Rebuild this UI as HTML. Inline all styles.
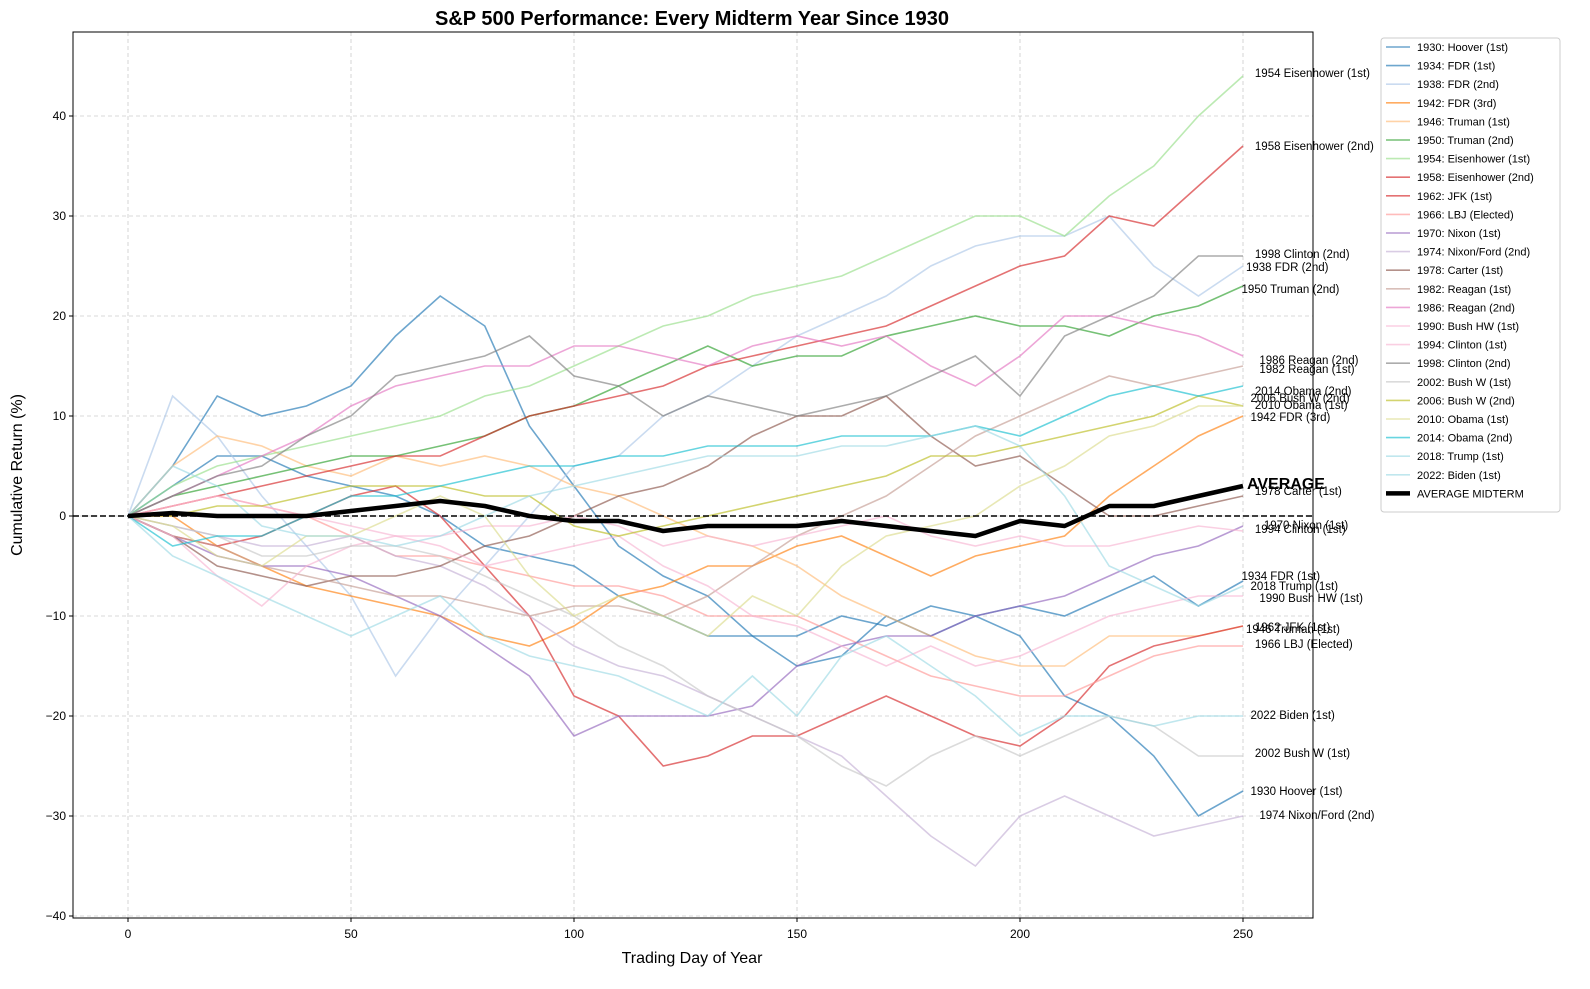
<!DOCTYPE html>
<html><head><meta charset="utf-8"><style>
html,body{margin:0;padding:0;background:#fff;overflow:hidden;width:1590px;height:989px;font-family:"Liberation Sans","DejaVu Sans",sans-serif}
svg{display:block;position:absolute;left:0;top:0}
</style></head><body>
<svg id="chart" width="1590" height="989" font-family="Liberation Sans, DejaVu Sans, sans-serif">
<text x="692" y="25" font-size="20" font-weight="bold" text-anchor="middle">S&amp;P 500 Performance: Every Midterm Year Since 1930</text>
<text x="692" y="963" font-size="16" text-anchor="middle">Trading Day of Year</text>
<text x="22" y="475" font-size="16" text-anchor="middle" transform="rotate(-90 22 475)">Cumulative Return (%)</text>
<g id="grid"></g><g id="series"></g><g id="labels"></g><g id="legend"></g>
</svg>
<script>
const days=[0,10,20,30,40,50,60,70,80,90,100,110,120,130,140,150,160,170,180,190,200,210,220,230,240,250];
const xTicks=[0,50,100,150,200,250];
const yTicks=[-40,-30,-20,-10,0,10,20,30,40];
const names=["1930: Hoover (1st)","1934: FDR (1st)","1938: FDR (2nd)","1942: FDR (3rd)","1946: Truman (1st)","1950: Truman (2nd)","1954: Eisenhower (1st)","1958: Eisenhower (2nd)","1962: JFK (1st)","1966: LBJ (Elected)","1970: Nixon (1st)","1974: Nixon/Ford (2nd)","1978: Carter (1st)","1982: Reagan (1st)","1986: Reagan (2nd)","1990: Bush HW (1st)","1994: Clinton (1st)","1998: Clinton (2nd)","2002: Bush W (1st)","2006: Bush W (2nd)","2010: Obama (1st)","2014: Obama (2nd)","2018: Trump (1st)","2022: Biden (1st)"];
const colors=["#1f77b4","#1f77b4","#aec7e8","#ff7f0e","#ffbb78","#2ca02c","#98df8a","#d62728","#d62728","#ff9896","#9467bd","#c5b0d5","#8c564b","#c49c94","#e377c2","#f7b6d2","#f7b6d2","#7f7f7f","#c7c7c7","#bcbd22","#dbdb8d","#17becf","#9edae5","#9edae5"];
const s1930=[0,5,12,10,11,13,18,22,19,9,3,-3,-6,-8,-12,-12,-10,-11,-9,-10,-12,-18,-20,-24,-30,-27.5];
const s1934=[0,3,6,6,4,3,2,0,-3,-4,-5,-8,-10,-12,-12,-15,-14,-10,-12,-10,-9,-10,-8,-6,-9,-6.5];
const s1938=[0,12,8,2,-3,-8,-16,-10,-5,0,5,6,10,12,15,18,20,22,25,27,28,28,30,25,22,25];
const s1942=[0,0,-3,-5,-7,-8,-9,-10,-12,-13,-11,-8,-7,-5,-5,-3,-2,-4,-6,-4,-3,-2,2,5,8,10];
const s1946=[0,5,8,7,5,4,6,5,6,5,3,2,0,-2,-3,-5,-8,-10,-12,-14,-15,-15,-12,-12,-12,-11];
const s1950=[0,2,3,4,5,6,6,7,8,10,11,13,15,17,15,16,16,18,19,20,19,19,18,20,21,23];
const s1954=[0,3,5,6,7,8,9,10,12,13,15,17,19,20,22,23,24,26,28,30,30,28,32,35,40,44];
const s1958=[0,1,2,3,4,5,6,6,8,10,11,12,13,15,16,17,18,19,21,23,25,26,30,29,33,37];
const s1962=[0,-2,-3,-2,0,2,3,0,-5,-10,-18,-20,-25,-24,-22,-22,-20,-18,-20,-22,-23,-20,-15,-13,-12,-11];
const s1966=[0,1,2,1,0,-2,-4,-4,-5,-6,-7,-7,-8,-10,-10,-10,-12,-14,-16,-17,-18,-18,-16,-14,-13,-13];
const s1970=[0,-2,-4,-5,-5,-6,-8,-10,-13,-16,-22,-20,-20,-20,-19,-15,-13,-12,-12,-10,-9,-8,-6,-4,-3,-1];
const s1974=[0,-1,-2,-3,-3,-2,-4,-5,-7,-10,-13,-15,-16,-18,-20,-22,-24,-28,-32,-35,-30,-28,-30,-32,-31,-30];
const s1978=[0,-2,-5,-6,-7,-6,-6,-5,-3,-2,0,2,3,5,8,10,10,12,8,5,6,3,0,0,1,2];
const s1982=[0,-2,-3,-5,-6,-7,-8,-8,-9,-10,-9,-9,-10,-8,-5,-2,0,2,5,8,10,12,14,13,14,15];
const s1986=[0,2,4,6,8,11,13,14,15,15,17,17,16,15,17,18,17,18,15,13,16,20,20,19,18,16];
const s1990=[0,-2,-6,-9,-5,-3,-2,-3,-5,-4,-3,-2,-5,-7,-10,-11,-13,-15,-13,-15,-14,-12,-10,-9,-8,-8];
const s1994=[0,1,2,1,0,-1,-2,-2,-1,-1,0,-1,-3,-2,-3,-2,-1,0,-2,-3,-2,-3,-3,-2,-1,-1.5];
const s1998=[0,2,4,5,8,10,14,15,16,18,14,13,10,12,11,10,11,12,14,16,12,18,20,22,26,26];
const s2002=[0,-1,-2,-4,-4,-3,-3,-4,-6,-8,-10,-13,-15,-18,-20,-22,-25,-27,-24,-22,-24,-22,-20,-21,-24,-24];
const s2006=[0,0,1,1,2,3,3,3,2,2,-1,-2,-1,0,1,2,3,4,6,6,7,8,9,10,12,11];
const s2010=[0,-1,-4,-5,-2,-2,0,2,0,-6,-10,-8,-10,-12,-8,-10,-5,-2,-1,0,3,5,8,9,11,11];
const s2014=[0,-3,-2,-2,0,2,2,3,4,5,5,6,6,7,7,7,8,8,8,9,8,10,12,13,12,13];
const s2018=[0,5,3,-1,-2,-2,-3,-2,0,2,3,4,5,6,6,6,7,7,8,9,7,2,-5,-7,-9,-7];
const s2022=[0,-4,-6,-8,-10,-12,-10,-8,-12,-14,-15,-16,-18,-20,-16,-20,-14,-12,-15,-18,-22,-20,-20,-21,-20,-20];
const avg=[0,0.3,0,0,0,0.5,1,1.5,1,0,-0.5,-0.5,-1.5,-1,-1,-1,-0.5,-1,-1.5,-2,-0.5,-1,1,1,2,3];
const seriesList=[s1930,s1934,s1938,s1942,s1946,s1950,s1954,s1958,s1962,s1966,s1970,s1974,s1978,s1982,s1986,s1990,s1994,s1998,s2002,s2006,s2010,s2014,s2018,s2022];
const endLabels=["1954 Eisenhower (1st)","1958 Eisenhower (2nd)","1998 Clinton (2nd)","1938 FDR (2nd)","1950 Truman (2nd)","1986 Reagan (2nd)","1982 Reagan (1st)","2014 Obama (2nd)","2006 Bush W (2nd)","2010 Obama (1st)","1942 FDR (3rd)","1978 Carter (1st)","1970 Nixon (1st)","1994 Clinton (1st)","1934 FDR (1st)","2018 Trump (1st)","1990 Bush HW (1st)","1962 JFK (1st)","1946 Truman (1st)","1966 LBJ (Elected)","2022 Biden (1st)","2002 Bush W (1st)","1930 Hoover (1st)","1974 Nixon/Ford (2nd)"];
const endLabelVals=[44.3,37,26.2,24.9,22.7,15.6,14.7,12.5,11.8,11.1,9.9,2.5,-0.9,-1.3,-6,-7,-8.2,-11.1,-11.3,-12.8,-19.9,-23.7,-27.5,-29.9];
const endLabelDays=[252,252,252,250,249,253,253,252,251,252,251,252,254,252,249,251,253,252,250,252,251,252,251,253];

const L=73,R=1313,T=32,B=918;
const xs=d=>128+d*(1243-128)/250;
const ys=v=>516-v*10;
const NS="http://www.w3.org/2000/svg";
function mk(tag,attrs,parent){const e=document.createElementNS(NS,tag);for(const k in attrs)e.setAttribute(k,attrs[k]);parent.appendChild(e);return e;}
const grid=document.getElementById('grid');
xTicks.forEach(t=>{
 const g=mk('line',{x1:xs(t),x2:xs(t),y1:T,y2:B,stroke:'#ccc','stroke-dasharray':'4,3','stroke-width':0.8},grid);
 
 
 mk('line',{x1:xs(t),x2:xs(t),y1:B,y2:B+4,stroke:'#000'},grid);
 const tx=mk('text',{x:xs(t),y:B+20,'font-size':12,'text-anchor':'middle'},grid);tx.textContent=t;
 
 
});
yTicks.forEach(t=>{
 const g=mk('line',{x1:L,x2:R,y1:ys(t),y2:ys(t),stroke:'#ccc','stroke-dasharray':'4,3','stroke-width':0.8},grid);
 
 
 mk('line',{x1:L-4,x2:L,y1:ys(t),y2:ys(t),stroke:'#000'},grid);
 const tx=mk('text',{x:L-7,y:ys(t)+4,'font-size':12,'text-anchor':'end'},grid);tx.textContent=String(t).replace('-','\u2212');
 
 
});
const frame=mk('rect',{x:L,y:T,width:R-L,height:B-T,fill:'none',stroke:'#000','stroke-width':1},grid);


const sg=document.getElementById('series');
seriesList.forEach((s,i)=>{
 const p=mk('polyline',{points:s.map((v,j)=>xs(days[j])+','+ys(v)).join(' '),fill:'none',stroke:colors[i],'stroke-width':1.6,'stroke-opacity':0.65},sg);
 
 
});
const zl=mk('line',{x1:L,x2:R,y1:ys(0),y2:ys(0),stroke:'#000','stroke-dasharray':'6,3','stroke-width':1.5},sg);


const ap=mk('polyline',{points:avg.map((v,j)=>xs(days[j])+','+ys(v)).join(' '),fill:'none',stroke:'#000','stroke-width':4.5,'stroke-linejoin':'round'},sg);


const lg=document.getElementById('labels');
endLabels.forEach((t,i)=>{
 const tx=mk('text',{x:xs(endLabelDays[i])+3,y:ys(endLabelVals[i])+4,'font-size':11.5},lg);tx.textContent=t;
 
 
});
const at=mk('text',{x:1247,y:489,'font-size':16,'font-weight':'bold'},lg);at.textContent='AVERAGE';


const leg=document.getElementById('legend');
const lb=mk('rect',{x:1381,y:38,width:179,height:474,fill:'#fff',stroke:'#ccc',rx:3},leg);


const legNames=names.concat(['AVERAGE MIDTERM']);
legNames.forEach((n,i)=>{
 const y=47+i*18.6;
 const isAvg=i===24;
 mk('line',{x1:1386,x2:1410,y1:y,y2:y,stroke:isAvg?'#000':colors[i],'stroke-width':isAvg?4.5:1.6,'stroke-opacity':isAvg?1:0.65},leg);
 const tx=mk('text',{x:1417,y:y+4,'font-size':11},leg);tx.textContent=n;
 
 
});
</script>
</body></html>
